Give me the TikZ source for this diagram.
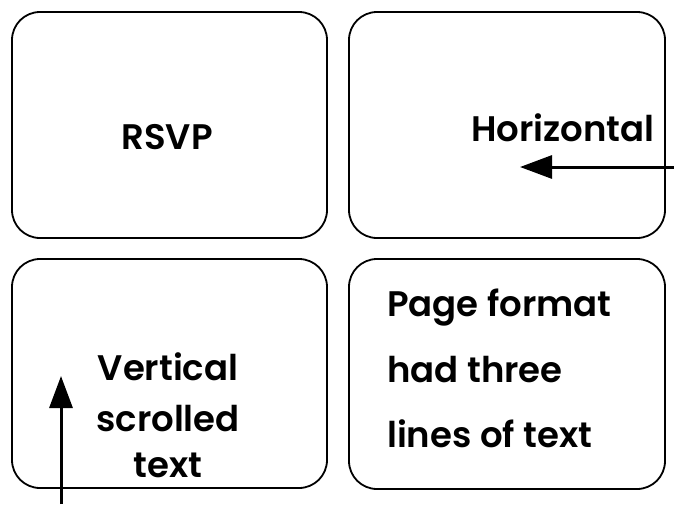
\documentclass[tikz,border=0pt]{standalone}
\usepackage{fontspec}
\setmainfont{Poppins}[BoldFont={Poppins SemiBold}]
\usetikzlibrary{arrows.meta}
\begin{document}
\begin{tikzpicture}[x=1pt,y=-1pt,
  panel/.style={draw=black,line width=1.8pt,rounded corners=28pt,inner sep=0pt},
  lbl/.style={font=\fontsize{35.5}{35.5}\selectfont\bfseries,inner sep=0pt},
  scroll/.style={line width=3pt,-{Triangle[length=32pt,width=23pt]}}]
\useasboundingbox (0,0) rectangle (674,504);
\node[panel,minimum width=315pt,minimum height=226pt] (b1) at (169.5,125) {};
\node[panel,minimum width=316pt,minimum height=226pt] (b2) at (507,125) {};
\node[panel,minimum width=315pt,minimum height=229pt] (b3) at (169.5,373.5) {};
\node[panel,minimum width=316pt,minimum height=230pt] (b4) at (507,374) {};
\node[lbl,anchor=base] (t1) at (167,149) {RSVP};
\node[lbl,anchor=base west] (t2) at (471,141) {Horizontal};
\node[lbl,anchor=base] (t3a) at (168,380) {Vertical};
\node[lbl,anchor=base] (t3b) at (168,431) {scrolled};
\node[lbl,anchor=base] (t3c) at (168,477) {text};
\node[lbl,anchor=base west] (t4a) at (387,316) {Page format};
\node[lbl,anchor=base west] (t4b) at (387,382) {had three};
\node[lbl,anchor=base west] (t4c) at (387,447) {lines of text};
\coordinate (hs) at (674,167);
\coordinate (he) at (520,167);
\coordinate (vs) at (61,504);
\coordinate (ve) at (61,376);
\draw[scroll] (hs) -- (he);
\draw[scroll] (vs) -- (ve);
\end{tikzpicture}
\end{document}
